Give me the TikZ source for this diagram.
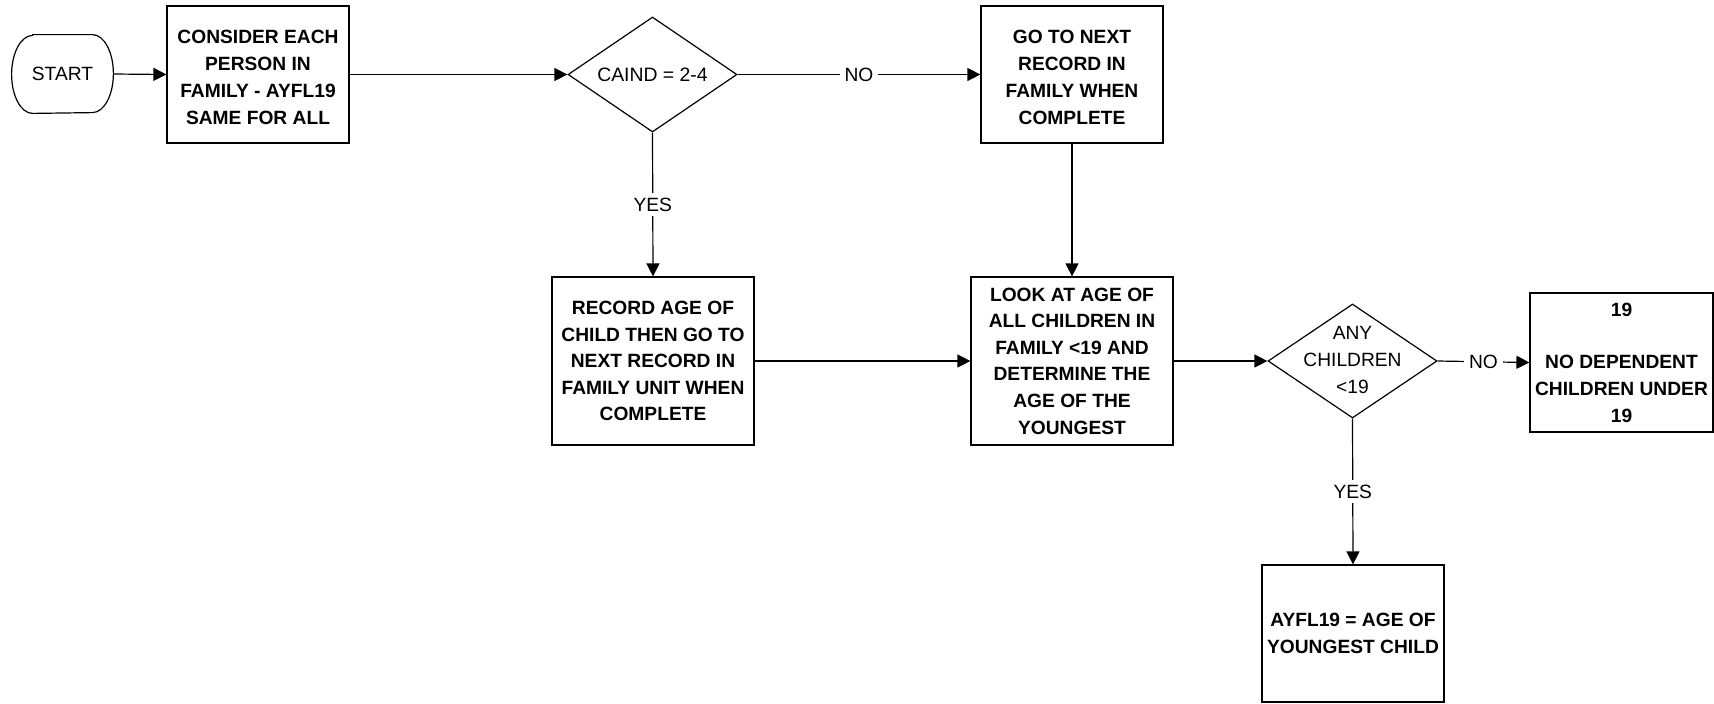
\documentclass[tikz,border=0pt]{standalone}
\usepackage{fontspec}
\setmainfont{Liberation Sans}
\usetikzlibrary{arrows.meta,shapes.geometric}
\begin{document}
\begin{tikzpicture}[x=0.5pt,y=-0.5pt,
  every node/.style={font=\fontsize{9.6}{13.3}\selectfont},
  box/.style={draw, line width=0.6pt, align=center, inner sep=0pt, font=\fontsize{9.6}{13.3}\selectfont\bfseries},
  dia/.style={draw, diamond, line width=0.6pt, inner sep=0pt},
  lbl/.style={fill=white, inner sep=2.5pt},
  arr/.style={line width=0.6pt, -{Triangle[length=6.5pt,width=6.5pt]}},
  ln/.style={line width=0.6pt}]
\useasboundingbox (0,0) rectangle (1714,703);
\fill[white] (0,0) rectangle (1714,703);

% START terminal
\node[inner sep=0pt, minimum width=50.5pt, minimum height=39pt] (start) at (62.5,74) {START};
\draw[ln] ([xshift=10.5pt]start.north west) -- ([xshift=-10.5pt]start.north east)
  arc[start angle=90, end angle=-90, x radius=10.5pt, y radius=19.5pt]
  -- ([xshift=10.5pt]start.south west)
  arc[start angle=270, end angle=90, x radius=10.5pt, y radius=19.5pt] -- cycle;

\node[box, minimum width=91pt, minimum height=68.5pt] (consider) at (258,74.5) {};
\node[align=center, font=\fontsize{9.6}{13.5}\selectfont\bfseries] at (258,77)
  {CONSIDER EACH\\PERSON IN\\FAMILY - AYFL19\\SAME FOR ALL};

\node[dia, minimum width=84.5pt, minimum height=57.5pt] (caind) at (652.5,74.5) {};
\node[font=\fontsize{9.7}{12}\selectfont] at (caind) {CAIND = 2-4};

\node[box, minimum width=91pt, minimum height=68.5pt] (gonext) at (1072,74.5) {};
\node[align=center, font=\fontsize{9.6}{13.5}\selectfont\bfseries] at (1072,77)
  {GO TO NEXT\\RECORD IN\\FAMILY WHEN\\COMPLETE};

\node[box, minimum width=101pt, minimum height=84pt] (record) at (653,361)
  {RECORD AGE OF\\CHILD THEN GO TO\\NEXT RECORD IN\\FAMILY UNIT WHEN\\COMPLETE};

\node[box, minimum width=101pt, minimum height=84pt] (look) at (1072,361)
  {LOOK AT AGE OF\\ALL CHILDREN IN\\FAMILY <19 AND\\DETERMINE THE\\AGE OF THE\\YOUNGEST};

\node[dia, minimum width=84.5pt, minimum height=57pt] (any) at (1352.5,361) {};
\node[align=center, font=\fontsize{9.6}{13.5}\selectfont] at (1352.5,360) {ANY\\CHILDREN\\<19};

\node[box, minimum width=91.5pt, minimum height=69.5pt] (nodep) at (1621.5,362.5)
  {19\\[13pt]NO DEPENDENT\\CHILDREN UNDER\\19};

\node[box, minimum width=91pt, minimum height=68.5pt] (ayfl) at (1353,633.5)
  {AYFL19 = AGE OF\\YOUNGEST CHILD};

% connectors
\draw[arr] (start.east) -- (consider.west);
\draw[arr] (consider.east) -- (caind.west);
\draw[arr] (caind.east) -- node[lbl] {NO} (gonext.west);
\draw[arr] (caind.south) -- node[lbl] {YES} (record.north);
\draw[arr] (gonext.south) -- (look.north);
\draw[arr] (record.east) -- (look.west);
\draw[arr] (look.east) -- (any.west);
\draw[arr] (any.east) -- node[lbl] {NO} (nodep.west);
\draw[arr] (any.south) -- node[lbl] {YES} (ayfl.north);
\end{tikzpicture}
\end{document}
